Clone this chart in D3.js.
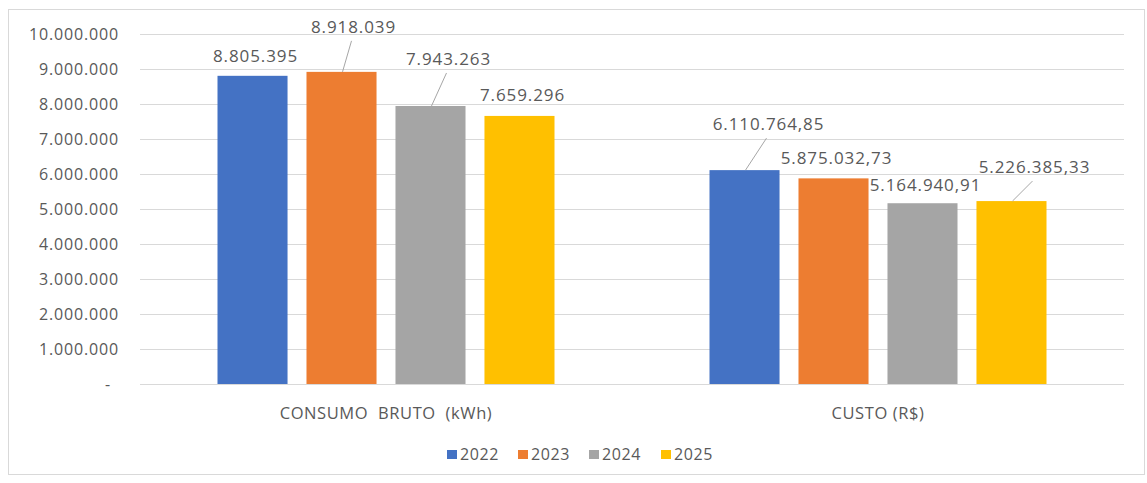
<!DOCTYPE html>
<html>
<head>
<meta charset="utf-8">
<script src="https://cdn.jsdelivr.net/npm/d3@7"></script>
<style>
  html, body { margin: 0; padding: 0; background: #ffffff; }
  svg { display: block; }
  text { font-family: "Open Sans", "Liberation Sans", sans-serif; fill: #595959; }
</style>
</head>
<body>
<svg id="chart" width="1147" height="483"></svg>
<script>
// Categories and series
const categories = ["CONSUMO  BRUTO  (kWh)", "CUSTO (R$)"];
const years = ["2022", "2023", "2024", "2025"];
const consumo = [8805395, 8918039, 7943263, 7659296];
const custo = [6110764.85, 5875032.73, 5164940.91, 5226385.33];
const tickValues = [0, 1000000, 2000000, 3000000, 4000000, 5000000, 6000000, 7000000, 8000000, 9000000, 10000000];
const colors = ["#4472C4", "#ED7D31", "#A5A5A5", "#FFC000"];

// Data-label placement: offset of each label's centre from its bar's top centre;
// labels dragged away from their bar get a leader line.
const labelLayout = [
  [{dx: 3, dy: -20, lead: false}, {dx: 12, dy: -45, lead: true}, {dx: 18, dy: -47, lead: true}, {dx: 3, dy: -21, lead: false}],
  [{dx: 24, dy: -46, lead: true}, {dx: 3, dy: -20, lead: false}, {dx: 3, dy: -18, lead: false}, {dx: 23, dy: -34, lead: true}]
];

const seriesByCat = [consumo, custo];
const rows = [];
categories.forEach((c, ci) => {
  years.forEach((y, yi) => rows.push({cat: c, ci, year: y, yi, value: seriesByCat[ci][yi]}));
});

const svg = d3.select("#chart");
const W = 1147, H = 483;

// outer chart frame
svg.append("rect")
  .attr("x", 8.5).attr("y", 9.5).attr("width", 1136).attr("height", 465)
  .attr("fill", "#ffffff").attr("stroke", "#d9d9d9").attr("stroke-width", 1);

const plot = {left: 140, right: 1124, top: 34, bottom: 384};

const x0 = d3.scaleBand().domain(categories).range([plot.left, plot.right]).padding(0);
const groupW = 337;
const x1 = d3.scaleBand().domain(years).range([0, groupW]).paddingInner(0.213).paddingOuter(0);
const y = d3.scaleLinear().domain([0, 10000000]).range([plot.bottom, plot.top]);

const fmtInt = v => d3.format(",.0f")(v).replace(/,/g, ".");
const fmtDec = v => d3.format(",.2f")(v).replace(/,/g, "#").replace(".", ",").replace(/#/g, ".");

// gridlines + y tick labels
const yAxis = d3.axisLeft(y).tickValues(tickValues).tickSize(-(plot.right - plot.left)).tickPadding(21)
  .tickFormat(v => v === 0 ? "-" : fmtInt(v));
const gy = svg.append("g").attr("transform", `translate(${plot.left},0)`).call(yAxis);
gy.select(".domain").remove();
gy.selectAll(".tick line").attr("stroke", "#d9d9d9").attr("stroke-width", 1);
gy.selectAll(".tick text").attr("fill", "#595959").style("font-size", "16px").style("letter-spacing", "0.85px");
gy.select(".tick:first-of-type text").attr("dx", -8);

// bars
const barX = d => x0(d.cat) + (x0.bandwidth() - groupW) / 2 + x1(d.year);
svg.append("g").selectAll("rect").data(rows).join("rect")
  .attr("x", barX)
  .attr("y", d => y(d.value))
  .attr("width", x1.bandwidth())
  .attr("height", d => y(0) - y(d.value))
  .attr("fill", d => colors[d.yi]);

// data labels with leader lines
const lg = svg.append("g");
rows.forEach(d => {
  const L = labelLayout[d.ci][d.yi];
  const cx = barX(d) + x1.bandwidth() / 2;
  const top = y(d.value);
  const lx = cx + L.dx, ly = top + L.dy;
  if (L.lead) {
    lg.append("line")
      .attr("x1", cx + 1).attr("y1", top)
      .attr("x2", lx - 2).attr("y2", ly + 14)
      .attr("stroke", "#a6a6a6").attr("stroke-width", 1);
  }
  lg.append("text")
    .attr("x", lx).attr("y", ly)
    .attr("dy", "0.35em")
    .attr("text-anchor", "middle")
    .style("font-size", "17px").style("letter-spacing", "0.9px")
    .text(d.ci === 0 ? fmtInt(d.value) : fmtDec(d.value));
});

// category labels
svg.append("g").selectAll("text").data(categories).join("text")
  .attr("x", c => x0(c) + x0.bandwidth() / 2)
  .attr("y", 413)
  .attr("dy", "0.35em")
  .attr("text-anchor", "middle")
  .style("font-size", "16.5px").style("letter-spacing", "0.6px")
  .style("white-space", "pre")
  .text(c => c);

// legend
const legendX = [447, 518, 589, 661];
const leg = svg.append("g").selectAll("g").data(years).join("g")
  .attr("transform", (d, i) => `translate(${legendX[i]},450)`);
leg.append("rect").attr("width", 10).attr("height", 9).attr("fill", (d, i) => colors[i]);
leg.append("text").attr("x", 13).attr("y", 4.5).attr("dy", "0.35em")
  .style("font-size", "16px").style("letter-spacing", "0.6px").text(d => d);
</script>
</body>
</html>
